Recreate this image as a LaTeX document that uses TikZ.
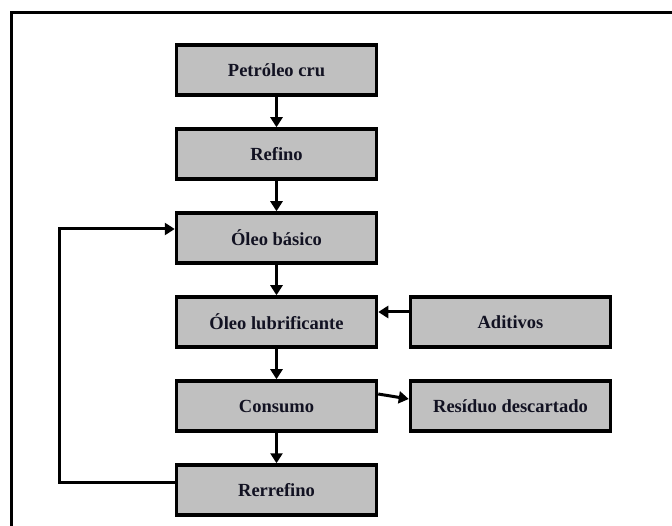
\documentclass[tikz,border=0pt]{standalone}
\usepackage{fontspec}
\setmainfont{Liberation Serif}
\usetikzlibrary{arrows.meta,calc}
\definecolor{boxfill}{RGB}{192,192,192}
\definecolor{inkdark}{RGB}{18,18,34}
\tikzset{
  stagebox/.style={draw=black, line width=3.5pt, fill=boxfill,
    minimum width=200pt, minimum height=50pt, inner sep=0pt,
    text=inkdark, font=\bfseries\fontsize{18.5}{21}\selectfont},
  flow/.style={line width=3pt, -{Triangle[width=12pt,length=10pt]}},
  frameline/.style={line width=3pt}
}
\begin{document}
\begin{tikzpicture}[x=1pt,y=1pt]
  \useasboundingbox (0,0) rectangle (672,525);
  \clip (0,0) rectangle (672,525);
  % outer frame
  \draw[frameline] (11,-10) -- (11,512) -- (690,512);
  % process chain
  \node[stagebox] (crude) at (276.5,455) {Petróleo cru};
  \node[stagebox] (refine) at (276.5,371) {Refino};
  \node[stagebox] (base) at (276.5,287) {Óleo básico};
  \node[stagebox] (lube) at (276.5,203) {Óleo lubrificante};
  \node[stagebox] (use) at (276.5,119) {Consumo};
  \node[stagebox] (rerefine) at (276.5,35) {Rerrefino};
  \node[stagebox] (additives) at (510.5,203) {Aditivos};
  \node[stagebox] (waste) at (510.5,119) {Resíduo descartado};
  % connectors
  \draw[flow] (crude) -- (refine);
  \draw[flow] (refine) -- (base);
  \draw[flow] (base) -- (lube);
  \draw[flow] (lube) -- (use);
  \draw[flow] (use) -- (rerefine);
  \draw[flow] ([yshift=10pt]additives.west) -- ([yshift=10pt]lube.east);
  \draw[flow] ([yshift=12pt]use.east) -- ([yshift=7pt]waste.west);
  \coordinate (loopbot) at (59,43);
  \coordinate (looptop) at (59,296);
  \draw[flow] ([yshift=8pt]rerefine.west) -- (loopbot) -- (looptop) -- ([yshift=9pt]base.west);
\end{tikzpicture}
\end{document}
